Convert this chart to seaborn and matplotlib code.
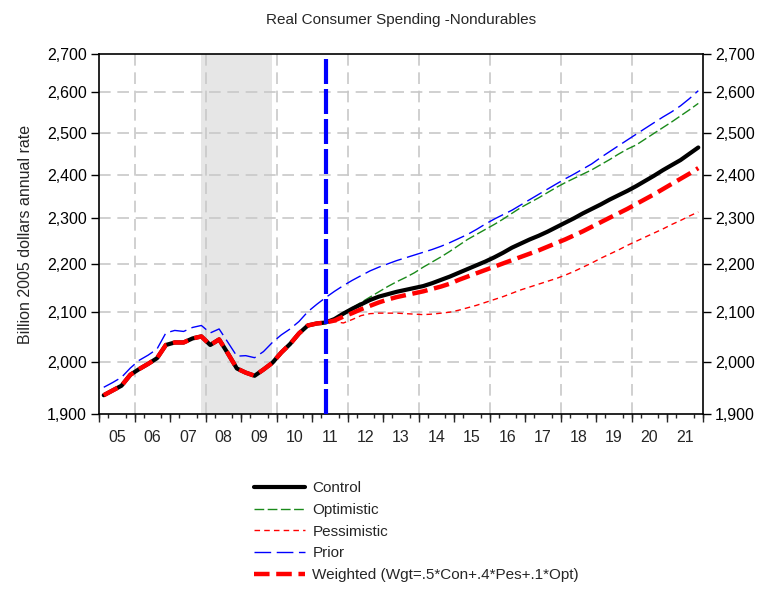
import numpy as np
import pandas as pd
import matplotlib
matplotlib.use('Agg')
import matplotlib.pyplot as plt
import matplotlib.ticker as mticker
from matplotlib.lines import Line2D
import seaborn as sns

# ============================================================================
# Data (quarterly, 2005Q1 - 2021Q4), billions of 2005 dollars, annual rate
# ============================================================================

start_year = 2005
end_year = 2021

# history shared by Control / Optimistic / Pessimistic / Weighted (2005Q1-2011Q2)
history = [1936, 1945, 1954, 1975,
           1986, 1996, 2007, 2033,
           2038, 2038, 2046, 2050,
           2033, 2044, 2016, 1987,
           1979, 1973, 1985, 1998,
           2018, 2035, 2056, 2072,
           2076, 2078]

# forecasts 2011Q3-2021Q4
control_fc = [2085, 2096,
              2106, 2115, 2124, 2131,
              2136, 2141, 2145, 2149,
              2153, 2159, 2166, 2173,
              2181, 2189, 2197, 2205,
              2214, 2224, 2235, 2244,
              2253, 2261, 2270, 2280,
              2290, 2300, 2311, 2321,
              2331, 2342, 2352, 2362,
              2373, 2385, 2397, 2410,
              2422, 2434, 2449, 2464]

optimistic_fc = [2086, 2098,
                 2108, 2119, 2130, 2141,
                 2152, 2162, 2171, 2181,
                 2193, 2204, 2215, 2227,
                 2240, 2253, 2264, 2275,
                 2286, 2298, 2311, 2324,
                 2335, 2346, 2358, 2370,
                 2381, 2391, 2401, 2411,
                 2423, 2435, 2448, 2460,
                 2470, 2484, 2498, 2512,
                 2526, 2541, 2556, 2572]

pessimistic_fc = [2080, 2077,
                  2084, 2092, 2096, 2097,
                  2097, 2097, 2096, 2095,
                  2094, 2095, 2097, 2099,
                  2103, 2108, 2113, 2119,
                  2125, 2131, 2138, 2145,
                  2151, 2157, 2163, 2169,
                  2176, 2184, 2193, 2202,
                  2212, 2221, 2230, 2240,
                  2249, 2258, 2267, 2276,
                  2286, 2295, 2305, 2314]

weighted_fc = [2082, 2090,
               2097, 2105, 2112, 2119,
               2125, 2130, 2134, 2138,
               2142, 2147, 2152, 2158,
               2166, 2173, 2180, 2187,
               2194, 2201, 2208, 2215,
               2222, 2229, 2237, 2245,
               2253, 2262, 2271, 2281,
               2291, 2301, 2311, 2321,
               2332, 2343, 2354, 2366,
               2378, 2390, 2402, 2415]

# previous vintage, whole range 2005Q1-2021Q4
prior = [1951, 1960, 1970, 1988,
         2003, 2013, 2025, 2057,
         2062, 2060, 2068, 2072,
         2057, 2065, 2038, 2011,
         2012, 2008, 2020, 2038,
         2053, 2065, 2080, 2100,
         2115, 2129, 2142, 2154,
         2165, 2175, 2185, 2193,
         2200, 2207, 2213, 2219,
         2225, 2231, 2238, 2246,
         2255, 2264, 2275, 2287,
         2298, 2308, 2318, 2330,
         2342, 2354, 2366, 2378,
         2390, 2401, 2413, 2425,
         2440, 2454, 2468, 2482,
         2496, 2510, 2524, 2538,
         2551, 2566, 2584, 2604]

recession = (2007.875, 2009.875)
forecast_start = 2011.375

y_ticks = [1900, 2000, 2100, 2200, 2300, 2400, 2500, 2600, 2700]
year_labels = ['05', '06', '07', '08', '09', '10', '11', '12', '13',
               '14', '15', '16', '17', '18', '19', '20', '21']

# ============================================================================
# Build frame
# ============================================================================

n_q = (end_year - start_year + 1) * 4
quarters = start_year + (np.arange(n_q) + 0.5) / 4.0

df = pd.DataFrame({
    'date': quarters,
    'Control': history + control_fc,
    'Optimistic': history + optimistic_fc,
    'Pessimistic': history + pessimistic_fc,
    'Prior': prior,
    'Weighted': history + weighted_fc,
})

# ============================================================================
# Plot
# ============================================================================

sns.set_style('white')
plt.rcParams['font.family'] = ['Liberation Sans', 'DejaVu Sans']
plt.rcParams['font.size'] = 11.5

fig = plt.figure(figsize=(7.57, 5.94), dpi=100)
ax = fig.add_axes([0.1312, 0.3022, 0.7971, 0.6077])

ax.axvspan(recession[0], recession[1], color='#e6e6e6', zorder=0, lw=0)

styles = {
    'Optimistic': dict(color='#1a8a1a', lw=1.0, ls=(0, (7, 2.5))),
    'Control': dict(color='black', lw=3.0, ls='-'),
    'Pessimistic': dict(color='red', lw=1.0, ls=(0, (4, 3))),
    'Prior': dict(color='blue', lw=1.0, ls=(0, (12, 4))),
    'Weighted': dict(color='red', lw=3.2, ls=(0, (3.5, 1.5))),
}

for name in ['Prior', 'Optimistic', 'Pessimistic', 'Control', 'Weighted']:
    st = styles[name]
    sns.lineplot(data=df, x='date', y=name, ax=ax, color=st['color'],
                 linewidth=st['lw'], linestyle=st['ls'], zorder=3)

ax.axvline(forecast_start, color='blue', lw=3, ls=(0, (6, 1.2)), zorder=4)

ax.set_yscale('log')
ax.set_ylim(1900, 2700)
ax.set_xlim(start_year, end_year + 1)
ax.yaxis.set_major_locator(mticker.FixedLocator(y_ticks))
ax.yaxis.set_minor_locator(mticker.NullLocator())
ax.yaxis.set_major_formatter(mticker.FuncFormatter(lambda v, p: f'{v:,.0f}'))
ax.tick_params(axis='y', which='major', direction='out', length=6, width=1,
               left=True, right=True, labelleft=True, labelright=True,
               labelsize=11.5, colors='black', pad=3)

# x: labels at mid-year, quarter ticks minor, year ticks via secondary axis
ax.set_xticks(np.arange(start_year, end_year + 1) + 0.5)
ax.set_xticklabels(year_labels)
ax.tick_params(axis='x', which='major', length=0, labelsize=11.5, pad=11)
ax.set_xticks(np.arange(start_year, end_year + 1.01, 0.25), minor=True)
ax.tick_params(axis='x', which='minor', direction='out', length=3, width=1,
               bottom=True)
sec = ax.secondary_xaxis('bottom')
sec.set_xticks(np.arange(start_year, end_year + 2))
sec.set_xticklabels([])
sec.tick_params(length=6, width=1, direction='out')
sec.spines['bottom'].set_visible(False)

# grid
for v in y_ticks[1:-1]:
    ax.axhline(v, color='#c8c8c8', lw=1.2, ls=(0, (7, 4)), zorder=1)
for yr in range(2006, 2021, 2):
    ax.axvline(yr, color='#c8c8c8', lw=1.2, ls=(0, (7, 4)), zorder=1)

for s in ax.spines.values():
    s.set_color('black')
    s.set_linewidth(1.2)

ax.set_xlabel('')
ax.set_ylabel('Billion 2005 dollars annual rate', fontsize=11.5, labelpad=10)
ax.set_title('Real Consumer Spending -Nondurables', fontsize=11, pad=21)

handles = [Line2D([], [], color=styles[n]['color'], lw=styles[n]['lw'],
                  ls=styles[n]['ls']) for n in
           ['Control', 'Optimistic', 'Pessimistic', 'Prior', 'Weighted']]
labels = ['Control', 'Optimistic', 'Pessimistic', 'Prior',
          'Weighted (Wgt=.5*Con+.4*Pes+.1*Opt)']
fig.legend(handles, labels, loc='upper left', bbox_to_anchor=(0.328, 0.2),
           frameon=False, fontsize=11, handlelength=3.3, labelspacing=0.5,
           handletextpad=0.5, borderaxespad=0)

plt.savefig('out.png', dpi=100, facecolor='white')
